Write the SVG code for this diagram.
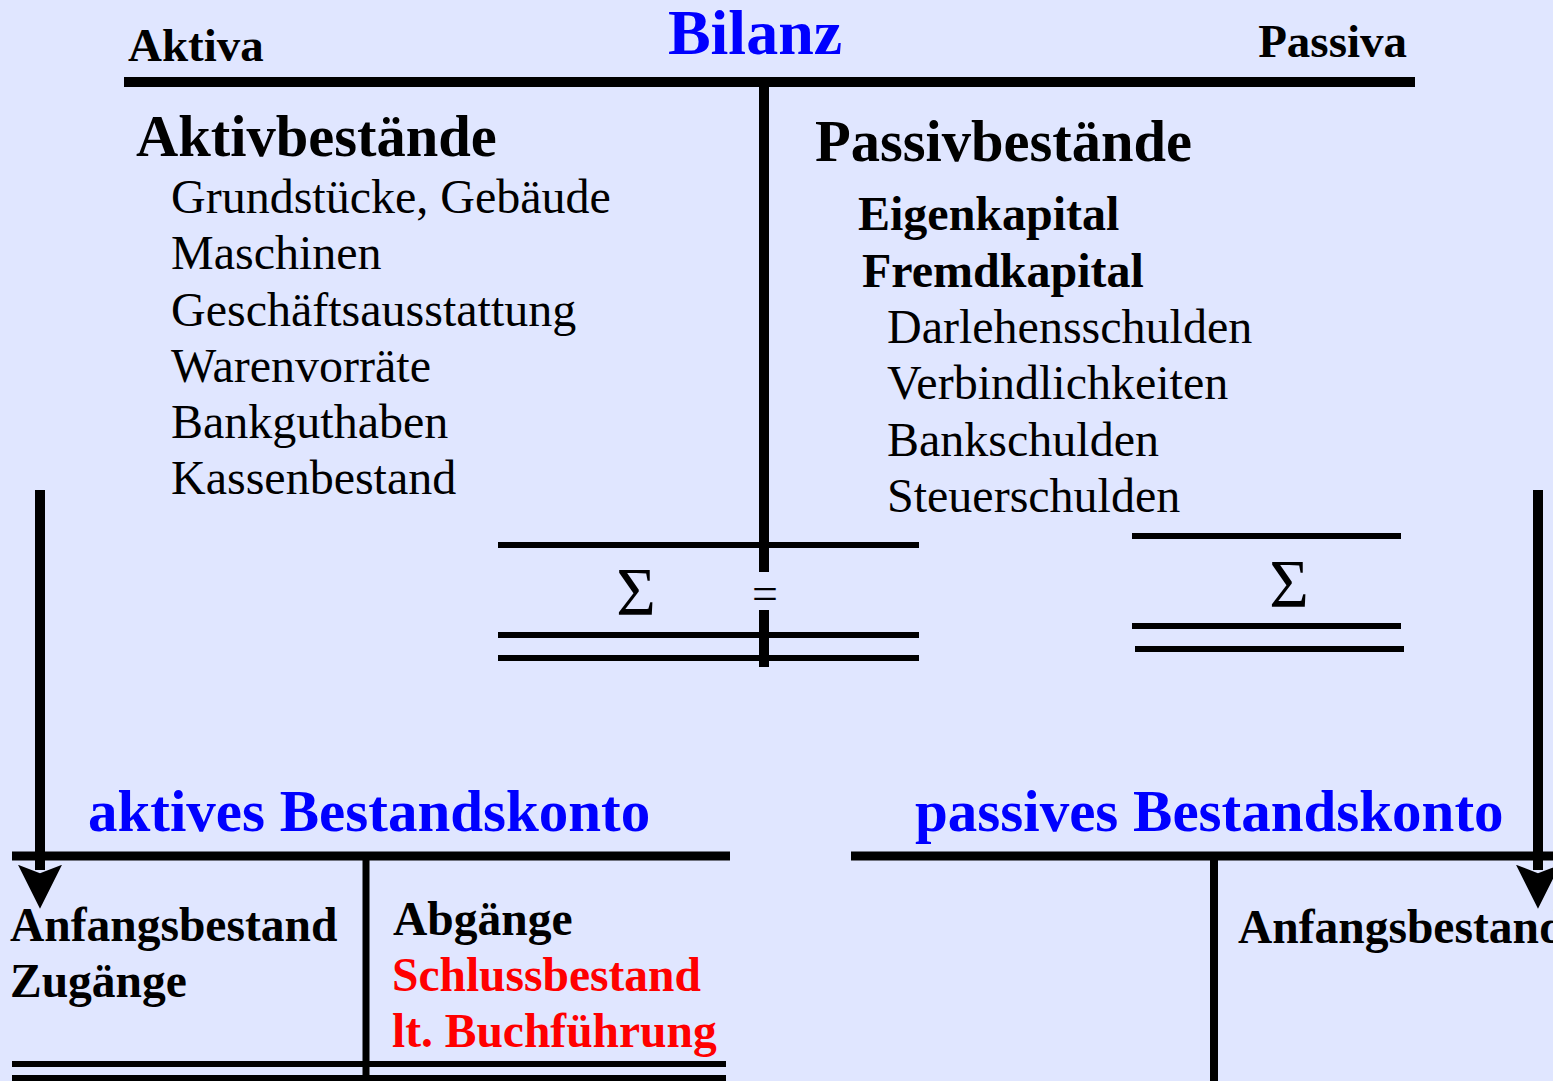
<svg xmlns="http://www.w3.org/2000/svg" width="1553" height="1081" viewBox="0 0 1553 1081">
<style>
.t{font-family:"Liberation Serif","Times New Roman",serif;fill:#000}
.b{font-weight:bold}
.blue{fill:#0000FF}
.red{fill:#FF0000}
.ln{stroke:#000;fill:none}
</style>
<defs>
<marker id="ah" markerUnits="userSpaceOnUse" markerWidth="44" markerHeight="44" refX="5" refY="21" orient="auto" viewBox="0 0 42 42">
<path d="M0,0 L8,21 L0,42 L42,21 Z" fill="#000"/>
</marker>
</defs>
<rect width="1553" height="1081" fill="#E0E6FF"/>
<g id="bilanz">
<text class="t b blue" x="755" y="54" font-size="64" text-anchor="middle">Bilanz</text>
<text class="t b" x="128" y="61" font-size="47">Aktiva</text>
<text class="t b" x="1407" y="57" font-size="47" text-anchor="end">Passiva</text>
<line class="ln" x1="124" y1="82" x2="1415" y2="82" stroke-width="10"/>
<line class="ln" x1="764" y1="82" x2="764" y2="572" stroke-width="10"/>
<line class="ln" x1="764" y1="610" x2="764" y2="667" stroke-width="10"/>
<text class="t b" x="136" y="156" font-size="58.5">Aktivbestände</text>
<g class="t" font-size="48">
<text x="171" y="213">Grundstücke, Gebäude</text>
<text x="171" y="269">Maschinen</text>
<text x="171" y="326">Geschäftsausstattung</text>
<text x="171" y="382">Warenvorräte</text>
<text x="171" y="438">Bankguthaben</text>
<text x="171" y="494">Kassenbestand</text>
</g>
<text class="t b" x="815" y="161" font-size="58.5">Passivbestände</text>
<text class="t b" x="858" y="230" font-size="48">Eigenkapital</text>
<text class="t b" x="862" y="287" font-size="48">Fremdkapital</text>
<g class="t" font-size="48">
<text x="887" y="343">Darlehensschulden</text>
<text x="887" y="399">Verbindlichkeiten</text>
<text x="887" y="456">Bankschulden</text>
<text x="887" y="512">Steuerschulden</text>
</g>
<line class="ln" x1="498" y1="545" x2="919" y2="545" stroke-width="6"/>
<line class="ln" x1="498" y1="635" x2="919" y2="635" stroke-width="6"/>
<line class="ln" x1="498" y1="658" x2="919" y2="658" stroke-width="6"/>
<text class="t" x="636" y="614" font-size="68" text-anchor="middle">Σ</text>
<text class="t" x="765" y="609" font-size="46" text-anchor="middle">=</text>
<line class="ln" x1="1132" y1="536" x2="1401" y2="536" stroke-width="6"/>
<line class="ln" x1="1132" y1="626" x2="1401" y2="626" stroke-width="6"/>
<line class="ln" x1="1135" y1="649" x2="1404" y2="649" stroke-width="6"/>
<text class="t" x="1289" y="606" font-size="68" text-anchor="middle">Σ</text>
</g>
<g id="aktives-konto">
<text class="t b blue" x="88" y="831" font-size="59">aktives Bestandskonto</text>
<line class="ln" x1="12" y1="856" x2="730" y2="856" stroke-width="9"/>
<line class="ln" x1="366" y1="856" x2="366" y2="1081" stroke-width="7"/>
<line class="ln" x1="12" y1="1064" x2="726" y2="1064" stroke-width="6"/>
<line class="ln" x1="12" y1="1078" x2="726" y2="1078" stroke-width="6"/>
<text class="t b" x="10" y="941" font-size="47.5">Anfangsbestand</text>
<text class="t b" x="10" y="997" font-size="47.5">Zugänge</text>
<text class="t b" x="393" y="935" font-size="47.5">Abgänge</text>
<text class="t b red" x="392" y="991" font-size="47.5">Schlussbestand</text>
<text class="t b red" x="392" y="1047" font-size="47.5">lt. Buchführung</text>
</g>
<g id="passives-konto">
<text class="t b blue" x="915" y="831" font-size="59">passives Bestandskonto</text>
<line class="ln" x1="851" y1="856" x2="1553" y2="856" stroke-width="9"/>
<line class="ln" x1="1214" y1="856" x2="1214" y2="1081" stroke-width="8"/>
<text class="t b" x="1238" y="943" font-size="47.5">Anfangsbestand</text>
</g>
<g id="connectors">
<line class="ln" x1="40" y1="490" x2="40" y2="870" stroke-width="10" marker-end="url(#ah)"/>
<line class="ln" x1="1538" y1="490" x2="1538" y2="870" stroke-width="10" marker-end="url(#ah)"/>
</g>
</svg>
